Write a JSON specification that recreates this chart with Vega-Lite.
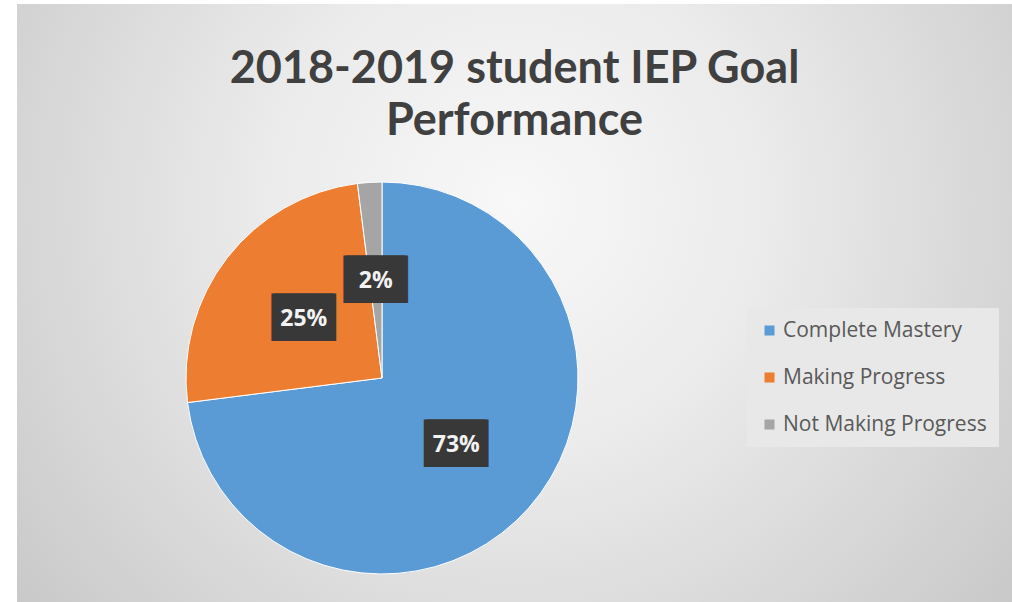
{
  "$schema": "https://vega.github.io/schema/vega-lite/v6.json",
  "width": 995,
  "height": 598,
  "autosize": "none",
  "padding": {"left": 17, "top": 4, "right": 0, "bottom": 0},
  "background": "#ffffff",
  "config": {"view": {"stroke": null}},
  "title": {
    "text": ["2018-2019 student IEP Goal", "Performance"],
    "font": "Lato",
    "fontSize": 45,
    "fontWeight": "bold",
    "color": "#404040",
    "anchor": "middle",
    "frame": "group",
    "lineHeight": 52,
    "offset": -140
  },
  "data": {
    "values": [
      {"category": "Complete Mastery", "share": 0.73},
      {"category": "Making Progress", "share": 0.25},
      {"category": "Not Making Progress", "share": 0.02}
    ]
  },
  "layer": [
    {
      "data": {"values": [{"bg": 1}]},
      "mark": {
        "type": "rect",
        "color": {
          "gradient": "radial",
          "x1": 0.5, "y1": 0.4, "r1": 0,
          "x2": 0.5, "y2": 0.4, "r2": 0.72,
          "stops": [
            {"offset": 0, "color": "#f8f8f8"},
            {"offset": 0.35, "color": "#ebebeb"},
            {"offset": 1, "color": "#c2c2c2"}
          ]
        }
      },
      "encoding": {}
    },
    {
      "mark": {"type": "arc", "outerRadius": 196, "x": 365, "y": 374, "stroke": "#ffffff", "strokeWidth": 1},
      "encoding": {
        "theta": {"field": "share", "type": "quantitative", "stack": true},
        "order": {"field": "category", "type": "ordinal", "sort": "ascending"},
        "color": {
          "field": "category",
          "type": "nominal",
          "scale": {
            "domain": ["Complete Mastery", "Making Progress", "Not Making Progress"],
            "range": ["#5B9BD5", "#ED7D31", "#A5A5A5"]
          },
          "legend": {
            "title": null,
            "orient": "none",
            "legendX": 730,
            "legendY": 304,
            "padding": 12,
            "fillColor": "#e8e8e8",
            "symbolType": "square",
            "symbolSize": 100,
            "symbolStrokeWidth": 0,
            "labelFont": "Open Sans",
            "labelFontSize": 21,
            "labelColor": "#595959",
            "labelOffset": 3,
            "labelLimit": 400,
            "rowPadding": 25
          }
        }
      }
    },
    {
      "mark": {"type": "text", "radius": 99, "x": 365, "y": 374, "font": "DejaVu Sans", "fontSize": 40, "color": "#383838", "align": "left", "baseline": "middle", "dx": -32, "dy": 2},
      "encoding": {
        "theta": {"field": "share", "type": "quantitative", "stack": true},
        "order": {"field": "category", "type": "ordinal", "sort": "ascending"},
        "text": {"value": "██"}
      }
    },
    {
      "mark": {"type": "text", "radius": 99, "x": 365, "y": 374, "font": "DejaVu Sans", "fontSize": 40, "color": "#383838", "align": "right", "baseline": "middle", "dx": 32, "dy": 2},
      "encoding": {
        "theta": {"field": "share", "type": "quantitative", "stack": true},
        "order": {"field": "category", "type": "ordinal", "sort": "ascending"},
        "text": {"value": "██"}
      }
    },
    {
      "mark": {"type": "text", "radius": 99, "x": 365, "y": 374, "font": "Open Sans", "fontSize": 23, "fontWeight": "bold", "color": "#f2f2f2", "align": "center", "baseline": "middle", "dy": 2},
      "encoding": {
        "theta": {"field": "share", "type": "quantitative", "stack": true},
        "order": {"field": "category", "type": "ordinal", "sort": "ascending"},
        "text": {"field": "share", "type": "quantitative", "format": ".0%"}
      }
    }
  ]
}
